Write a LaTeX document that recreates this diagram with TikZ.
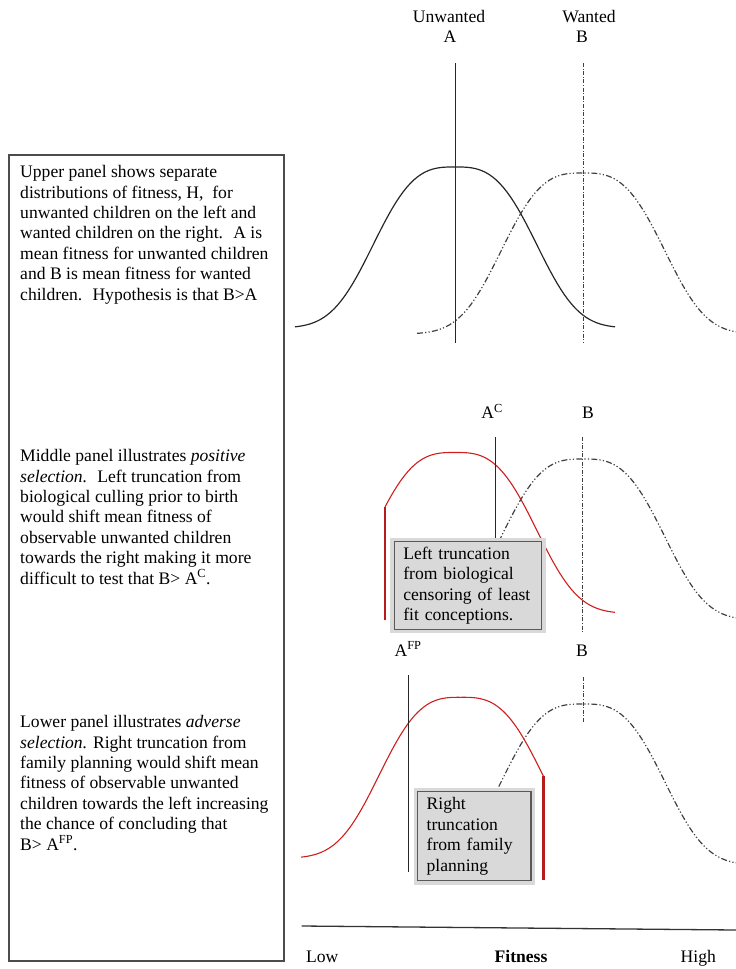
\documentclass[tikz,border=0pt]{standalone}
\usepackage{fontspec}
\setmainfont{Liberation Serif}
\usepackage{xcolor}
\usetikzlibrary{positioning}
\definecolor{cullred}{RGB}{206,30,30}
\tikzset{
  unw/.style={line width=1.2pt,black!85},
  wnt/.style={line width=1.2pt,black!75,dash pattern=on 6pt off 2.2pt on 1.2pt off 2.2pt on 1.2pt off 2.2pt},
  meanA/.style={line width=1pt,black!85},
  meanB/.style={line width=1pt,black!75,dash pattern=on 4pt off 1.6pt on 1pt off 1.6pt},
  cull/.style={line width=1.1pt,cullred},
  trunc/.style={line width=2.6pt,cullred!90!black},
  truncbox/.style={draw=black!65,line width=1.2pt,fill=black!15,preaction={draw=black!15,line width=8pt},
                   align=left,inner xsep=9pt,inner ysep=0pt},
  txt/.style={anchor=base west,align=left,inner sep=0pt},
  lbl/.style={anchor=base,inner sep=0pt},
}

\begin{document}
\begin{tikzpicture}[x=1pt,y=-1pt,font=\fontsize{17.6}{20.4}\selectfont]
  \useasboundingbox (0,0) rectangle (736,969);

  % ===== left explanation box =====
  % (text nodes are placed by the baseline of their last line)
  \draw[line width=1.3pt,black!70] (9,155) rectangle (284,961);
  \node[txt] (upTxt) at (20,300){Upper panel shows separate\\distributions of fitness, H,~ for\\
        unwanted children on the left and\\wanted children on the right.~ A is\\
        mean fitness for unwanted children\\and B is mean fitness for wanted\\children.~ Hypothesis is that B>A};
  \node[txt] (midTxt) at (20,584){Middle panel illustrates \emph{positive}\\\emph{selection.}~ Left truncation from\\
        biological culling prior to birth\\would shift mean fitness of\\observable unwanted children\\
        towards the right making it more\\difficult to test that B> A\textsuperscript{C}.};
  \node[txt] (lowTxt) at (20,850){Lower panel illustrates \emph{adverse}\\\emph{selection.} Right truncation from\\
        family planning would shift mean\\fitness of observable unwanted\\children towards the left increasing\\
        the chance of concluding that\\B> A\textsuperscript{FP}.};

  % ===== Upper panel: both distributions =====
  \node[lbl] (lblUnw) at (449,22.7){Unwanted};
  \node[lbl] (lblA) at (450,42.7){A};
  \node[lbl] (lblWnt) at (589,22.7){Wanted};
  \node[lbl] (lblB1) at (582,42.7){B};
  \draw[unw] plot[domain=-160:160,samples=90] ({455+\x},{328-161*exp(-(abs(\x)/94)^3)});
  \draw[wnt] plot[domain=-166:153,samples=90] ({583+\x},{334-161*exp(-(abs(\x)/94)^3)});
  \draw[meanA] (455,63)--(455,343);
  \draw[meanB] (583,63)--(583,343);

  % ===== Middle panel: left truncation =====
  \node[lbl] (lblAC) at (492,418.3){A\textsuperscript{C}};
  \node[lbl] (lblB2) at (588,418.3){B};
  \draw[wnt] plot[domain=-166:153,samples=90] ({583+\x},{620-161*exp(-(abs(\x)/94)^3)});
  \draw[cull] plot[domain=-70:160,samples=80] ({455+\x},{613.5-161*exp(-(abs(\x)/94)^3)});
  \draw[trunc] (385,507)--(385,620);
  \draw[meanA] (495.3,437)--(495.3,540);
  \draw[meanB] (582.3,437)--(582.3,633);
  \node[truncbox,text width=129.4pt,minimum height=87.6pt] (boxCull) at (468,585.5)
       {Left truncation\\from biological\\censoring of least\\fit conceptions.};

  % ===== Lower panel: right truncation =====
  \node[lbl] (lblAFP) at (408,656){A\textsuperscript{FP}};
  \node[lbl] (lblB3) at (582,656){B};
  \draw[wnt] plot[domain=-166:153,samples=90] ({583+\x},{865-161*exp(-(abs(\x)/94)^3)});
  \draw[cull] plot[domain=-160:82.3,samples=80] ({461+\x},{858.3-161*exp(-(abs(\x)/94)^3)});
  \draw[trunc] (543.3,776)--(543.3,880);
  \draw[meanA] (408.7,675)--(408.7,872);
  \draw[meanB] (583,677)--(583,722);
  \node[truncbox,text width=95.3pt,minimum height=89pt] (boxFP) at (474.3,836.2)
       {Right\\truncation\\from family\\planning};

  % ===== fitness axis =====
  \draw[line width=1.3pt,black!80] (301.7,926)--(736,930);
  \node[lbl] (lblLow) at (322.3,962.7){Low};
  \node[lbl,font=\fontsize{17.6}{20.4}\selectfont\bfseries] (lblFit) at (521,962.7){Fitness};
  \node[lbl] (lblHigh) at (698.3,962.7){High};
\end{tikzpicture}
\end{document}
